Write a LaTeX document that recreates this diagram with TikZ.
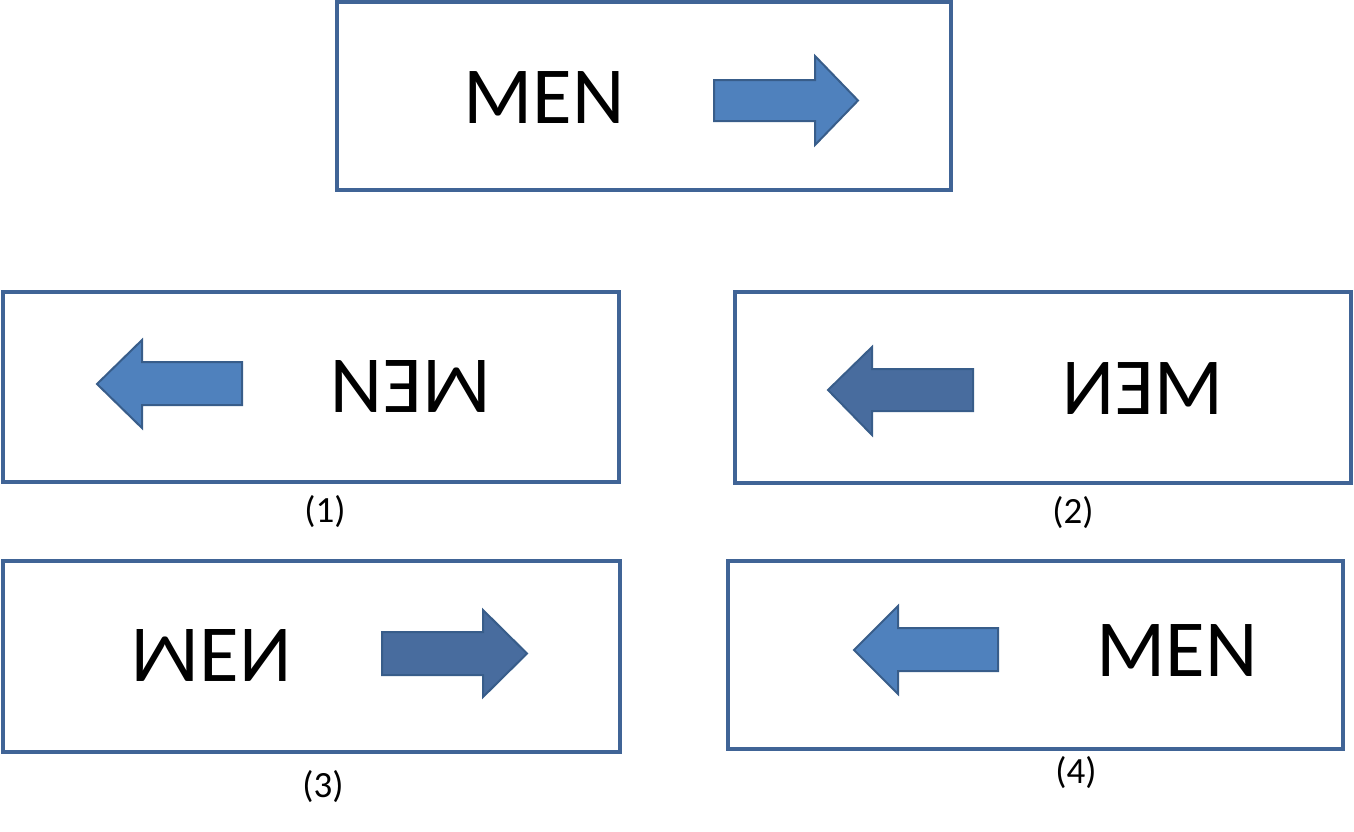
\documentclass[tikz,border=0pt]{standalone}
\usepackage{fontspec}
\setmainfont{Carlito}
\definecolor{boxline}{RGB}{64,100,150}
\definecolor{arrfill}{RGB}{79,129,189}
\definecolor{arrdark}{RGB}{72,108,158}
\definecolor{arrline}{RGB}{56,93,138}
\tikzset{
  signbox/.style={draw=boxline, line width=3.2pt, fill=none},
  arr/.style={fill=arrfill, draw=arrline, line width=2pt, line join=miter},
  arrd/.style={fill=arrdark, draw=arrline, line width=2pt, line join=miter},
  signtext/.style={inner sep=0pt, font=\fontsize{81}{81}\selectfont},
  captext/.style={inner sep=0pt, font=\fontsize{37}{37}\selectfont}
}
\begin{document}
\begin{tikzpicture}[x=1pt,y=-1pt]
\useasboundingbox (0,0) rectangle (1354,831);
% boxes
\draw[signbox] (337,2) rectangle (951,190);
\draw[signbox] (3,292) rectangle (619,482);
\draw[signbox] (735,292) rectangle (1351,483);
\draw[signbox] (3,561) rectangle (620,752);
\draw[signbox] (728,561) rectangle (1343,749);
% arrows
\draw[arr] (714,80)--(815,80)--(815,56)--(858,100.5)--(815,145)--(815,121)--(714,121)--cycle;
\draw[arr] (242,362)--(142,362)--(142,340)--(97,384)--(142,428)--(142,405)--(242,405)--cycle;
\draw[arrd] (973,369)--(872,369)--(872,347)--(828,390)--(872,435)--(872,411)--(973,411)--cycle;
\draw[arrd] (382,632)--(483,632)--(483,610)--(527,653.5)--(483,697)--(483,675)--(382,675)--cycle;
\draw[arr] (998,628)--(898,628)--(898,606)--(854,650)--(898,694)--(898,671)--(998,671)--cycle;
% texts
\node[signtext] (t0) at (544,98) {MEN};
\node[signtext, rotate=180] (t1) at (411,386) {MEN};
\node[signtext, xscale=-1] (t2) at (1143,389) {MEN};
\node[signtext, yscale=-1] (t3) at (211,655) {MEN};
\node[signtext] (t4) at (1177,651) {MEN};
% captions
\node[captext] (c1) at (325,512) {(1)};
\node[captext] (c2) at (1073,513) {(2)};
\node[captext] (c3) at (323,787) {(3)};
\node[captext] (c4) at (1076,773) {(4)};
\end{tikzpicture}
\end{document}
